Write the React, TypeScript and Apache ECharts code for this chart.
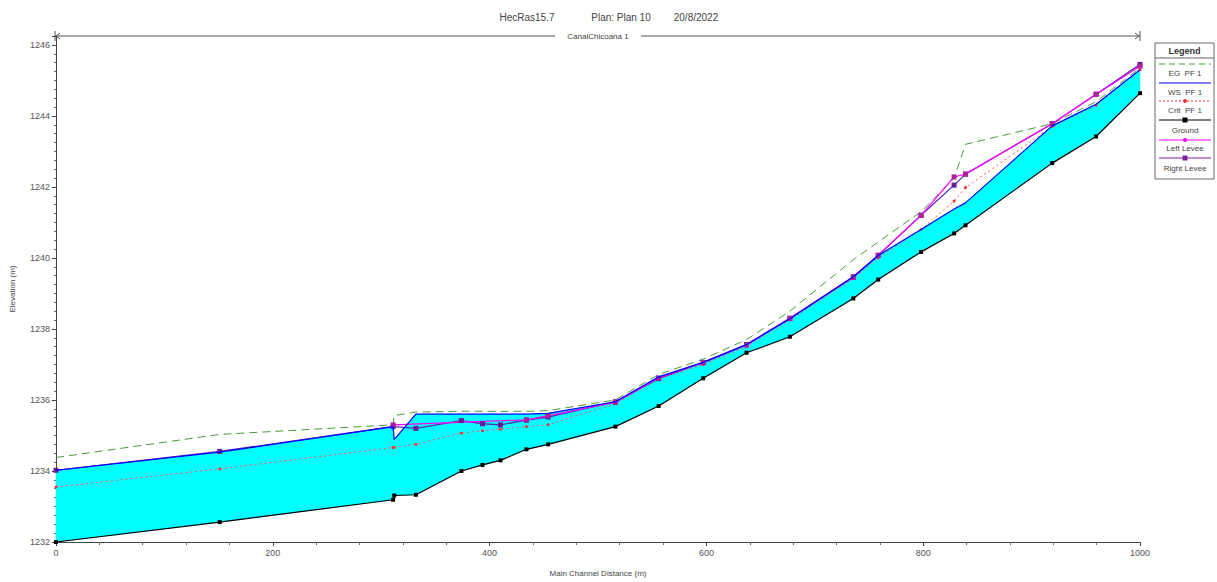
import React, { useEffect, useRef } from "react";
import * as echarts from "echarts";

// Main channel stations (m)
const stations = [0, 151, 311, 312, 332, 374, 393.5, 410, 434, 454, 516, 556, 597, 637, 677, 735.5, 758.5, 798, 828.5, 839, 919, 959.5, 1000];
// Elevations (m)
const ground = [1232.0, 1232.56, 1233.19, 1233.31, 1233.33, 1234.0, 1234.17, 1234.3, 1234.61, 1234.75, 1235.25, 1235.83, 1236.61, 1237.33, 1237.78, 1238.86, 1239.39, 1240.17, 1240.69, 1240.92, 1242.67, 1243.42, 1244.64];
const wsPF1 = [1234.02, 1234.53, 1235.25, 1234.88, 1235.6, 1235.6, 1235.6, 1235.6, 1235.6, 1235.62, 1235.95, 1236.65, 1237.06, 1237.56, 1238.29, 1239.47, 1240.07, 1240.8, 1241.38, 1241.55, 1243.72, 1244.33, 1245.3];
const egPF1 = [1234.38, 1235.03, 1235.3, 1235.56, 1235.66, 1235.68, 1235.68, 1235.68, 1235.68, 1235.7, 1236.0, 1236.72, 1237.15, 1237.7, 1238.5, 1239.95, 1240.45, 1241.3, 1242.25, 1243.2, 1243.78, 1244.4, 1245.35];
const critPF1 = [1233.55, 1234.06, 1234.66, 1234.66, 1234.75, 1235.07, 1235.13, 1235.18, 1235.25, 1235.3, 1235.9, 1236.6, 1237.0, 1237.5, 1238.25, 1239.42, 1240.0, 1240.8, 1241.6, 1241.98, 1243.7, 1244.3, 1245.3];
const leftLevee: (number | null)[] = [null, null, 1235.3, null, null, null, null, null, 1235.44, 1235.56, 1235.93, 1236.62, 1237.05, 1237.55, 1238.3, 1239.45, 1240.08, 1241.2, 1242.28, 1242.36, 1243.78, 1244.61, 1245.4];
const rightLevee: (number | null)[] = [1234.02, 1234.55, 1235.25, null, 1235.2, 1235.42, 1235.33, 1235.3, 1235.43, 1235.52, 1235.95, 1236.6, 1237.06, 1237.56, 1238.3, 1239.47, 1240.07, 1241.2, 1242.05, 1242.36, 1243.78, 1244.61, 1245.45];

const titleParts = ["HecRas15.7", "Plan: Plan 10", "20/8/2022"];
const reachName = "CanalChicoana 1";
const legendNames = ["EG  PF 1", "WS  PF 1", "Crit  PF 1", "Ground", "Left Levee", "Right Levee"];

const FONT = "'Liberation Sans', Arial, sans-serif";

const pairs = (vals: (number | null)[]) =>
  stations.map((s, i) => [s, vals[i]]).filter((p) => p[1] !== null && p[1] !== undefined);

export default function App() {
  const ref = useRef<HTMLDivElement>(null);
  useEffect(() => {
    if (!ref.current) return;
    const chart = echarts.init(ref.current, null, { renderer: "svg" });
    const fillData = stations.map((s, i) => [s, ground[i], wsPF1[i]]);

    const legendSamples: any[] = [];
    const sampleY = [64, 83, 101, 120, 140, 158];
    const textY = [73, 92, 110, 130, 148, 168];
    const styles = [
      { color: "#4a9a3a", dash: [6, 4], marker: null },
      { color: "#0000ff", dash: null, marker: null },
      { color: "#ff3030", dash: [2, 2], marker: "circle" },
      { color: "#000000", dash: null, marker: "rect" },
      { color: "#ff00ff", dash: null, marker: "circle" },
      { color: "#7a1fa2", dash: null, marker: "rect" },
    ];
    styles.forEach((st, i) => {
      legendSamples.push({
        type: "line",
        shape: { x1: 1159, y1: sampleY[i], x2: 1211, y2: sampleY[i] },
        style: { stroke: st.color, lineWidth: 1, lineDash: st.dash || undefined },
      });
      if (st.marker === "circle") {
        legendSamples.push({ type: "circle", shape: { cx: 1185, cy: sampleY[i], r: 2 }, style: { fill: st.color } });
      } else if (st.marker === "rect") {
        legendSamples.push({ type: "rect", shape: { x: 1182.5, y: sampleY[i] - 2.5, width: 5, height: 5 }, style: { fill: st.color } });
      }
      legendSamples.push({
        type: "text",
        x: 1185,
        y: textY[i],
        style: { text: legendNames[i], fill: "#444", font: `8px ${FONT}`, textAlign: "center", textVerticalAlign: "middle" },
      });
    });

    const option: any = {
      animation: false,
      backgroundColor: "#ffffff",
      grid: { left: 55, right: 77, top: 36, bottom: 33 },
      xAxis: {
        type: "value",
        min: 0,
        max: 1000,
        interval: 200,
        name: "Main Channel Distance (m)",
        nameLocation: "middle",
        nameGap: 27,
        nameTextStyle: { fontSize: 8, color: "#444", fontFamily: FONT },
        axisLine: { lineStyle: { color: "#444", width: 1 } },
        axisTick: { length: 4, lineStyle: { color: "#444" } },
        minorTick: { show: true, splitNumber: 5, length: 3, lineStyle: { color: "#666" } },
        axisLabel: { fontSize: 9, color: "#555", fontFamily: FONT, margin: 6, formatter: (v: number) => String(v) },
        splitLine: { show: false },
      },
      yAxis: {
        type: "value",
        min: 1232,
        max: 1246.25,
        interval: 2,
        name: "Elevation (m)",
        nameLocation: "middle",
        nameGap: 40,
        nameRotate: 90,
        nameTextStyle: { fontSize: 8, color: "#444", fontFamily: FONT },
        axisLine: { show: true, lineStyle: { color: "#444", width: 1 } },
        axisTick: { show: true, length: 4, lineStyle: { color: "#444" } },
        minorTick: { show: true, splitNumber: 8, length: 2, lineStyle: { color: "#666" } },
        axisLabel: {
          fontSize: 9,
          color: "#555",
          fontFamily: FONT,
          margin: 6,
          formatter: (v: number) => (Math.abs(v % 2) < 1e-6 ? String(v) : ""),
        },
        splitLine: { show: false },
      },
      series: [
        {
          name: "fill",
          type: "custom",
          silent: true,
          z: 1,
          data: fillData,
          encode: { x: 0, y: [1, 2] },
          renderItem: (params: any, api: any) => {
            if (params.dataIndex !== 0) return null;
            const top = fillData.map((d) => api.coord([d[0], d[2]]));
            const bottom = fillData.map((d) => api.coord([d[0], d[1]])).reverse();
            return {
              type: "polygon",
              shape: { points: top.concat(bottom) },
              style: { fill: "#00ffff", stroke: "#00ffff", lineWidth: 0.5 },
            };
          },
        },
        {
          name: "Crit PF 1",
          type: "line",
          z: 3,
          data: pairs(critPF1),
          symbol: "circle",
          symbolSize: 3,
          itemStyle: { color: "#ff3030" },
          lineStyle: { color: "#ff5050", width: 1, type: [2, 3] },
        },
        {
          name: "EG PF 1",
          type: "line",
          z: 3,
          data: pairs(egPF1),
          symbol: "none",
          lineStyle: { color: "#4a9a3a", width: 1, type: [8, 5] },
        },
        {
          name: "Right Levee",
          type: "line",
          z: 4,
          data: pairs(rightLevee),
          symbol: "rect",
          symbolSize: 5,
          itemStyle: { color: "#6a1b9a" },
          lineStyle: { color: "#5b2db0", width: 1.3 },
        },
        {
          name: "Left Levee",
          type: "line",
          z: 4,
          data: pairs(leftLevee),
          symbol: "rect",
          symbolSize: 5,
          itemStyle: { color: "#b0209a" },
          lineStyle: { color: "#ff00ff", width: 1.2 },
        },
        {
          name: "WS PF 1",
          type: "line",
          z: 5,
          data: pairs(wsPF1),
          symbol: "none",
          lineStyle: { color: "#0000ff", width: 1.2 },
        },
        {
          name: "Ground",
          type: "line",
          z: 6,
          data: pairs(ground),
          symbol: "rect",
          symbolSize: 4,
          itemStyle: { color: "#000000" },
          lineStyle: { color: "#000000", width: 1.2 },
        },
      ],
      graphic: [
        { type: "text", x: 527, y: 17, style: { text: titleParts[0], fill: "#444", font: `10px ${FONT}`, textAlign: "center", textVerticalAlign: "middle" } },
        { type: "text", x: 621, y: 17, style: { text: titleParts[1], fill: "#444", font: `10px ${FONT}`, textAlign: "center", textVerticalAlign: "middle" } },
        { type: "text", x: 696, y: 17, style: { text: titleParts[2], fill: "#444", font: `10px ${FONT}`, textAlign: "center", textVerticalAlign: "middle" } },
        { type: "line", shape: { x1: 55, y1: 36, x2: 555, y2: 36 }, style: { stroke: "#555", lineWidth: 1 } },
        { type: "line", shape: { x1: 641, y1: 36, x2: 1140, y2: 36 }, style: { stroke: "#555", lineWidth: 1 } },
        { type: "line", shape: { x1: 55, y1: 31, x2: 55, y2: 41 }, style: { stroke: "#555", lineWidth: 1 } },
        { type: "line", shape: { x1: 1140, y1: 31, x2: 1140, y2: 41 }, style: { stroke: "#555", lineWidth: 1 } },
        { type: "polyline", shape: { points: [[60, 33], [56, 36], [60, 39]] }, style: { stroke: "#555", lineWidth: 1, fill: null } },
        { type: "polyline", shape: { points: [[1135, 33], [1139, 36], [1135, 39]] }, style: { stroke: "#555", lineWidth: 1, fill: null } },
        { type: "text", x: 598, y: 36, style: { text: reachName, fill: "#444", font: `8px ${FONT}`, textAlign: "center", textVerticalAlign: "middle" } },
        { type: "rect", shape: { x: 1155, y: 43, width: 59, height: 136 }, style: { fill: "#fff", stroke: "#666", lineWidth: 1 } },
        { type: "line", shape: { x1: 1155, y1: 58, x2: 1214, y2: 58 }, style: { stroke: "#666", lineWidth: 1 } },
        { type: "text", x: 1184.5, y: 50.5, style: { text: "Legend", fill: "#333", font: `bold 9px ${FONT}`, textAlign: "center", textVerticalAlign: "middle" } },
        ...legendSamples,
      ],
    };
    chart.setOption(option);
    return () => chart.dispose();
  }, []);
  return <div ref={ref} style={{ position: "fixed", left: 0, top: 0, width: 1217, height: 582 }} />;
}
